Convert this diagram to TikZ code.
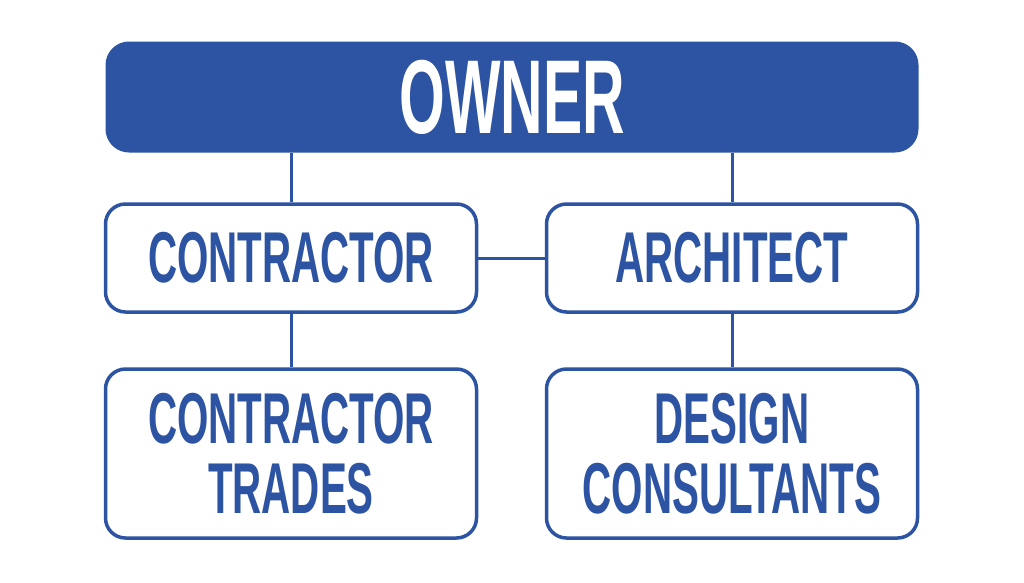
\documentclass[tikz,border=0pt]{standalone}
\usepackage{fontspec}
\newfontfamily\rolefont{Liberation Sans}[FakeStretch=0.56]
\definecolor{ownerblue}{RGB}{45,83,163}
\tikzset{
    ownerbox/.style = {draw = ownerblue, fill = ownerblue, line width = 3pt, rounded corners = 22pt,
        minimum width = 810pt, minimum height = 108pt, text = white,
        font = \rolefont\bfseries\fontsize{105}{105}\selectfont},
    rolebox/.style = {draw = ownerblue, fill = white, line width = 3.5pt, rounded corners = 20pt,
        minimum width = 371pt, text = ownerblue, align = center,
        font = \rolefont\bfseries\fontsize{72}{70}\selectfont},
    link/.style = {draw = ownerblue, line width = 3pt}
}
\begin{document}
\begin{tikzpicture}[x = 1pt, y = -1pt]
            \useasboundingbox [fill = white] (0, 0) rectangle (1024, 582);
            \node [ownerbox] (owner) at (512, 97) {OWNER};
            \node [rolebox, minimum height = 108pt] (contractor) at (291, 258) {CONTRACTOR};
            \node [rolebox, minimum height = 108pt] (architect) at (732, 258) {ARCHITECT};
            \node [rolebox, minimum height = 169pt] (trades) at (291, 453.5) {CONTRACTOR\\TRADES};
            \node [rolebox, minimum height = 169pt] (consultants) at (732, 453.5) {DESIGN\\CONSULTANTS};
            \draw [link] (owner.south -| contractor.north) -- (contractor.north);
            \draw [link] (owner.south -| architect.north) -- (architect.north);
            \draw [link] (contractor.east) -- (architect.west);
            \draw [link] (contractor.south) -- (trades.north);
            \draw [link] (architect.south) -- (consultants.north);
        \end{tikzpicture}
\end{document}
